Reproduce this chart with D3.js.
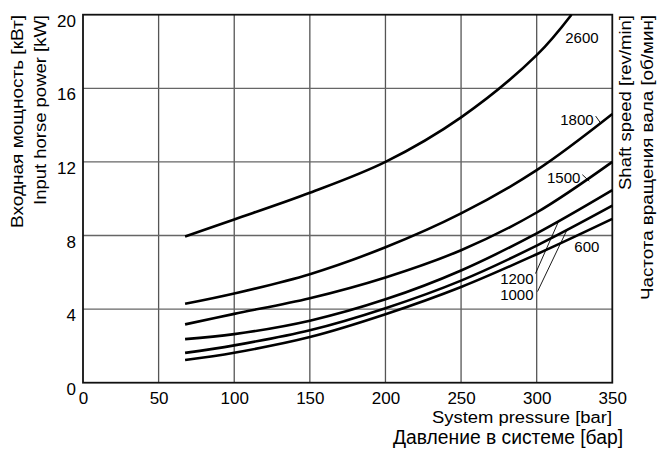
<!DOCTYPE html>
<html>
<head>
<meta charset="utf-8">
<script src="https://cdn.jsdelivr.net/npm/d3@7"></script>
<style>
  html, body { margin: 0; padding: 0; background: #fff; }
  svg { display: block; font-family: "Liberation Sans", Arial, sans-serif; }
</style>
</head>
<body>
<svg id="chart" width="660" height="451"></svg>
<script>
// Axis ticks
const pressureTicks = [0, 50, 100, 150, 200, 250, 300, 350];
const powerTicks = [0, 4, 8, 12, 16, 20];

// Input power [kW] vs system pressure [bar] for each shaft speed
const pressure = [67.5, 100, 150, 200, 250, 300, 350];
const kw1800 = [4.29, 4.85, 5.9, 7.36, 9.2, 11.55, 14.6];
const kw1500 = [3.17, 3.74, 4.59, 5.72, 7.2, 9.25, 12.0];
const kw1200 = [2.37, 2.64, 3.37, 4.53, 6.1, 8.12, 10.47];
const kw1000 = [1.62, 2.03, 2.85, 4.05, 5.55, 7.45, 9.62];
const kw600  = [1.23, 1.63, 2.48, 3.72, 5.2, 6.98, 8.9];
const pressure2600 = [67.5, 100, 150, 200, 250, 300, 323];
const kw2600 = [7.95, 8.87, 10.32, 12.0, 14.42, 17.8, 20.0];

const series = [
  { speed: "2600", p: pressure2600, kw: kw2600 },
  { speed: "1800", p: pressure, kw: kw1800 },
  { speed: "1500", p: pressure, kw: kw1500 },
  { speed: "1200", p: pressure, kw: kw1200 },
  { speed: "1000", p: pressure, kw: kw1000 },
  { speed: "600",  p: pressure, kw: kw600 }
];

// Speed labels, anchored in data units (pressure, kW)
const labels = [
  { text: "2600", p: 318.9, kw: 18.46, anchor: "start" },
  { text: "1800", p: 315.6, kw: 14.0,  anchor: "start", tick: [2, -9, 7, -2] },
  { text: "1500", p: 306.8, kw: 10.87, anchor: "start", tick: [2, -8, 9, -1.5] },
  { text: "1200", p: 297.9, kw: 5.39,  anchor: "end", leaderTo: 314.5, lead: [2, -10] },
  { text: "1000", p: 297.9, kw: 4.52,  anchor: "end", leaderTo: 320, lead: [4, -8] },
  { text: "600",  p: 324.9, kw: 7.12,  anchor: "start" }
];

const svg = d3.select("#chart");
const x = d3.scaleLinear().domain([0, 350]).range([83, 612.3]);
const y = d3.scaleLinear().domain([0, 20]).range([382.7, 14.7]);

// Grid
const grid = svg.append("g");
grid.selectAll("line.v").data(pressureTicks.slice(1, -1)).join("line")
  .attr("x1", d => x(d)).attr("x2", d => x(d))
  .attr("y1", y(0)).attr("y2", y(20))
  .attr("stroke", "#555").attr("stroke-width", 1.3);
grid.selectAll("line.h").data(powerTicks.slice(1, -1)).join("line")
  .attr("x1", x(0)).attr("x2", x(350))
  .attr("y1", d => y(d)).attr("y2", d => y(d))
  .attr("stroke", "#666").attr("stroke-width", 1.3);

// Frame
svg.append("rect")
  .attr("x", x(0)).attr("y", y(20))
  .attr("width", x(350) - x(0)).attr("height", y(0) - y(20))
  .attr("fill", "none").attr("stroke", "#111").attr("stroke-width", 1.8);

// Axes (labels only)
const xAxis = svg.append("g")
  .attr("transform", `translate(0,${y(0)})`)
  .call(d3.axisBottom(x).tickValues(pressureTicks).tickSize(0).tickPadding(0));
xAxis.select(".domain").remove();
xAxis.selectAll("text").attr("dy", null).attr("y", 21.5)
  .attr("font-size", 17).attr("fill", "#000").attr("font-family", null);

const yAxis = svg.append("g")
  .attr("transform", `translate(${x(0)},0)`)
  .call(d3.axisLeft(y).tickValues(powerTicks).tickSize(0).tickPadding(7));
yAxis.select(".domain").remove();
yAxis.selectAll("text").attr("dy", null).attr("y", 11.5)
  .attr("font-size", 17).attr("fill", "#000").attr("font-family", null);

// Curves
const line = d3.line()
  .x(d => x(d[0])).y(d => y(d[1]))
  .curve(d3.curveCatmullRom.alpha(0.5));

const paths = {};
series.forEach(s => {
  const pts = s.p.map((p, i) => [p, s.kw[i]]);
  paths[s.speed] = svg.append("path")
    .attr("d", line(pts))
    .attr("fill", "none").attr("stroke", "#000")
    .attr("stroke-width", 2.6).attr("stroke-linecap", "butt")
    .node();
});

// Point on a drawn curve at a given pressure
function pointOnCurve(node, p) {
  const tx = x(p);
  let lo = 0, hi = node.getTotalLength();
  for (let i = 0; i < 40; i++) {
    const mid = (lo + hi) / 2;
    if (node.getPointAtLength(mid).x < tx) lo = mid; else hi = mid;
  }
  return node.getPointAtLength((lo + hi) / 2);
}

// Speed labels
labels.forEach(l => {
  const lx = x(l.p), ly = y(l.kw);
  const t = svg.append("text")
    .attr("x", lx).attr("y", ly)
    .attr("text-anchor", l.anchor)
    .attr("font-size", 15).attr("fill", "#000")
    .text(l.text);
  const bb = t.node().getBBox();
  if (l.tick) {
    const r = bb.x + bb.width;
    svg.append("line")
      .attr("x1", r + l.tick[0]).attr("y1", ly + l.tick[1])
      .attr("x2", r + l.tick[2]).attr("y2", ly + l.tick[3])
      .attr("stroke", "#000").attr("stroke-width", 0.9);
  }
  if (l.leaderTo !== undefined) {
    const end = pointOnCurve(paths[l.text], l.leaderTo);
    svg.append("line")
      .attr("x1", lx + l.lead[0]).attr("y1", ly + l.lead[1])
      .attr("x2", end.x).attr("y2", end.y)
      .attr("stroke", "#000").attr("stroke-width", 0.9);
  }
});

// Axis titles
function title(txt, tx, ty, size, len, rotate) {
  svg.append("text")
    .attr("transform", `translate(${tx},${ty})` + (rotate ? " rotate(-90)" : ""))
    .attr("text-anchor", "end")
    .attr("font-size", size).attr("fill", "#000")
    .attr("textLength", len).attr("lengthAdjust", "spacingAndGlyphs")
    .text(txt);
}
title("System pressure [bar]", 612, 423, 16, 180, false);
title("Давление в системе [бар]", 623, 443.5, 19.5, 230, false);
title("Входная мощность [кВт]", 22.5, 15, 17, 213, true);
title("Input horse power [kW]", 46, 15, 17, 190, true);
title("Shaft speed [rev/min]", 630.5, 15, 17, 175, true);
title("Частота вращения вала [об/мин]", 652.5, 15, 17, 285, true);
</script>
</body>
</html>
